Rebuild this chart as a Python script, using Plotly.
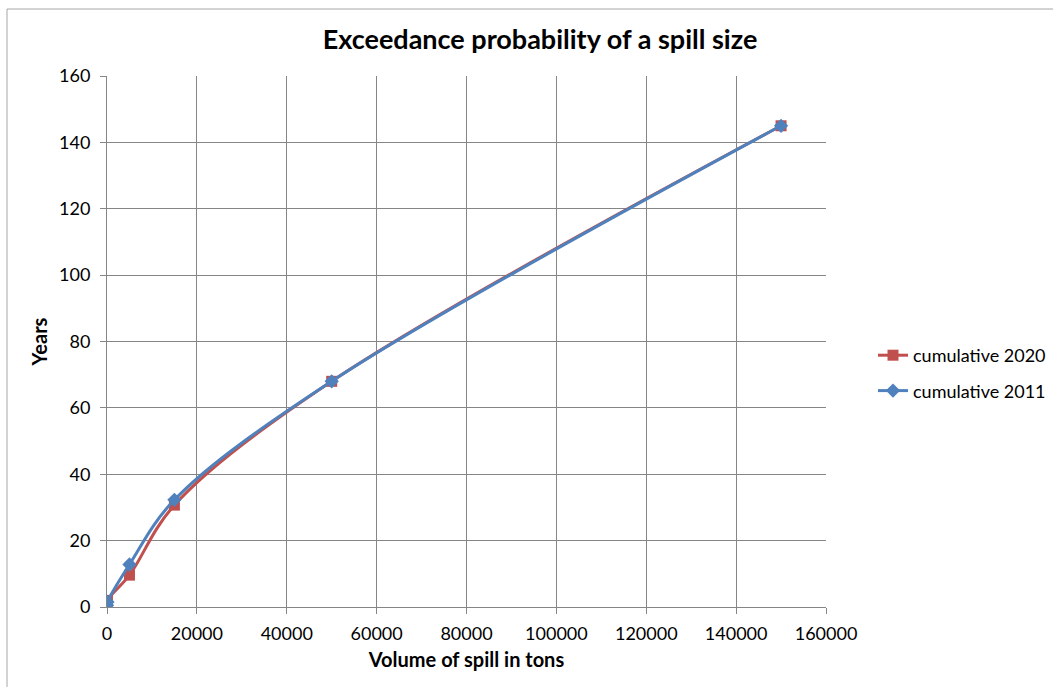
import plotly.graph_objects as go

volume = [0, 100, 5000, 15000, 50000, 150000]
years_2020 = [0.5, 2, 9.6, 30.7, 68, 145]
years_2011 = [0.5, 1.5, 12.8, 32.3, 68, 145]

tick_x = [0, 20000, 40000, 60000, 80000, 100000, 120000, 140000, 160000]
tick_y = [0, 20, 40, 60, 80, 100, 120, 140, 160]

font_family = "Lato, Open Sans, sans-serif"

fig = go.Figure()
fig.add_trace(go.Scatter(
    x=volume, y=years_2020, name="cumulative 2020", legendgroup="a",
    mode="lines+markers", line=dict(color="#C0504D", width=3, shape="spline"),
    marker=dict(symbol="square", size=11, color="#C0504D"),
))
fig.add_trace(go.Scatter(
    x=volume, y=years_2011, name="cumulative 2011", legendgroup="b",
    mode="lines+markers", line=dict(color="#4F81BD", width=3, shape="spline"),
    marker=dict(symbol="diamond", size=11, color="#4F81BD"),
))

fig.update_layout(
    width=1053, height=687,
    margin=dict(l=107, r=227, t=76, b=80, autoexpand=False),
    paper_bgcolor="white", plot_bgcolor="white",
    font=dict(family=font_family, size=18, color="black"),
    title=dict(text="<b>Exceedance probability of a spill size</b>",
               x=540/1053, xanchor="center", y=1-40/687, yanchor="middle",
               font=dict(size=27)),
    xaxis=dict(range=[0, 160000], tickvals=tick_x, ticktext=[str(v) for v in tick_x],
               showgrid=True, gridcolor="#868686", gridwidth=1,
               showline=True, linecolor="#868686", linewidth=1,
               ticks="outside", ticklen=6, tickcolor="#868686",
               ticklabelstandoff=4,
               zeroline=False, mirror=False,
               title=dict(text="<b>Volume of spill in tons</b>", font=dict(size=20), standoff=10)),
    yaxis=dict(range=[0, 160], tickvals=tick_y, ticktext=[str(v) for v in tick_y],
               showgrid=True, gridcolor="#868686", gridwidth=1,
               showline=True, linecolor="#868686", linewidth=1,
               ticks="outside", ticklen=6, tickcolor="#868686",
               ticklabelstandoff=6,
               zeroline=False,
               title=dict(text="<b>Years</b>", font=dict(size=20), standoff=6)),
    legend=dict(x=(873-107)/719, xanchor="left", y=(607-337)/531, yanchor="top",
                font=dict(size=18), bgcolor="rgba(0,0,0,0)", tracegroupgap=9),
    showlegend=True,
)

fig.add_shape(type="rect", xref="paper", yref="paper",
              x0=(7-107)/719, x1=(1060-107)/719, y0=(607-700)/531, y1=(607-9)/531,
              line=dict(color="#A6A6A6", width=1), layer="below")

fig.write_html("out.html")
